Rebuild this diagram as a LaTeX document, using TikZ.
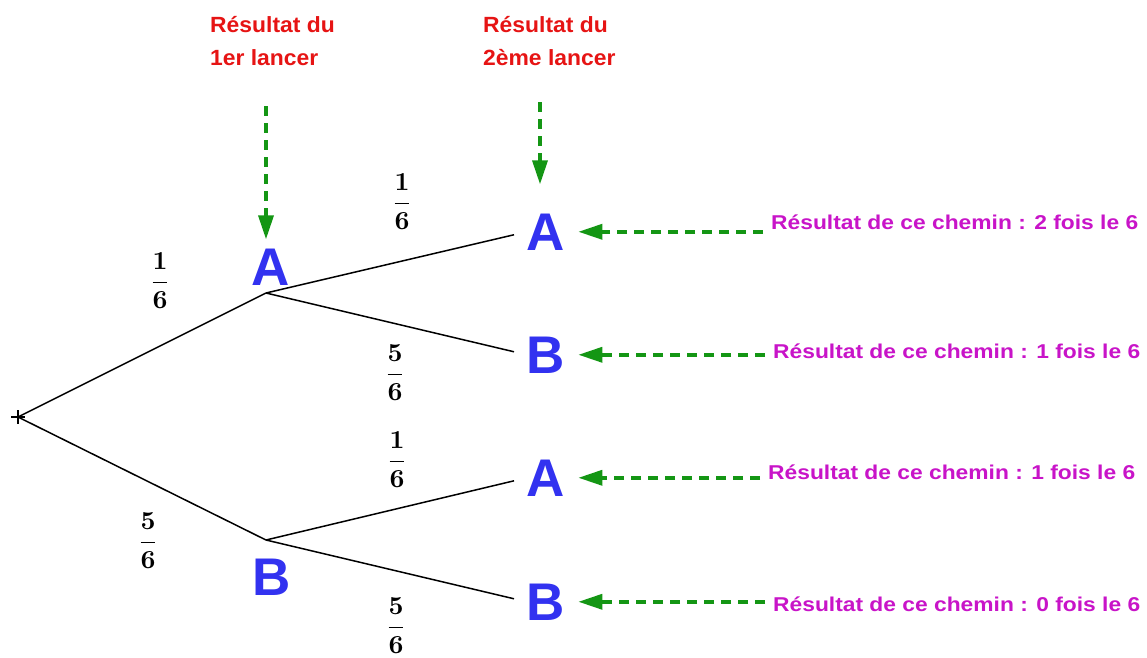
\documentclass[tikz,border=0pt]{standalone}
\usepackage{amsmath}
\usepackage[no-math]{fontspec}
\setmainfont{Liberation Sans}
\newfontfamily\headfont[FakeStretch=1.04]{Liberation Sans}
\newfontfamily\pathfont[FakeStretch=1.14]{Liberation Sans}
\usetikzlibrary{arrows.meta}
\definecolor{headred}{RGB}{230,20,20}
\definecolor{pathmag}{RGB}{200,20,200}
\definecolor{arrgreen}{RGB}{20,150,20}
\definecolor{letblue}{RGB}{50,50,240}
\newcommand{\bigprob}[2]{\scalebox{2.6}{\boldmath$\dfrac{#1}{#2}$}}
\tikzset{
  letter/.style={inner sep=0pt, anchor=base, text=letblue, font=\bfseries\fontsize{53}{53}\selectfont},
  heading/.style={inner sep=0pt, anchor=base west, text=headred, font=\headfont\bfseries\fontsize{22}{22}\selectfont},
  pathtxt/.style={inner sep=0pt, anchor=base west, text=pathmag, font=\pathfont\bfseries\fontsize{20}{20}\selectfont},
  prob/.style={inner sep=0pt},
  branch/.style={line width=1.5pt, black},
  garrow/.style={line width=3.5pt, arrgreen, dash pattern=on 10pt off 7pt, -{Triangle[length=24pt,width=15pt]}}
}
\begin{document}
\begin{tikzpicture}[x=1pt,y=-1pt]
\useasboundingbox (0,0) rectangle (1147,657);
% tree points
\coordinate (root) at (18,417);
\coordinate (a1) at (266,293);
\coordinate (b1) at (266,540);
\draw[line width=1.5pt] (root) ++(-7,0) -- ++(14,0);
\draw[line width=1.5pt] (root) ++(0,-7) -- ++(0,14);
% letters
\node[letter] (A1) at (271,285) {A};
\node[letter] (B1) at (272,595) {B};
\node[letter] (A2) at (546,250) {A};
\node[letter] (B2) at (546,373) {B};
\node[letter] (A3) at (546,496) {A};
\node[letter] (B3) at (546,620) {B};
% branches
\draw[branch] (root) -- (a1);
\draw[branch] (root) -- (b1);
\draw[branch, shorten >=13pt] (a1) -- (A2.west);
\draw[branch, shorten >=13pt] (a1) -- (B2.west);
\draw[branch, shorten >=13pt] (b1) -- (A3.west);
\draw[branch, shorten >=13pt] (b1) -- (B3.west);
% probabilities
\node[prob] (p1) at (160,281) {\bigprob{1}{6}};
\node[prob] (p2) at (148,541) {\bigprob{5}{6}};
\node[prob] (p3) at (402,202) {\bigprob{1}{6}};
\node[prob] (p4) at (395,373) {\bigprob{5}{6}};
\node[prob] (p5) at (397,460) {\bigprob{1}{6}};
\node[prob] (p6) at (396,626) {\bigprob{5}{6}};
% headings
\node[heading] (h1a) at (210,32) {Résultat du};
\node[heading] (h1b) at (210,65) {1er lancer};
\node[heading] (h2a) at (483,32) {Résultat du};
\node[heading] (h2b) at (483,65) {2ème lancer};
\coordinate (v1) at (266,106);
\coordinate (v2) at (540,102);
\draw[garrow, shorten >=9pt] (v1) -- (v1 |- A1.north);
\draw[garrow, shorten >=29pt] (v2) -- (v2 |- A2.north);
% path results
\node[pathtxt] (t1) at (771,229) {Résultat de ce chemin : 2 fois le 6};
\node[pathtxt] (t2) at (773,358) {Résultat de ce chemin : 1 fois le 6};
\node[pathtxt] (t3) at (768,479) {Résultat de ce chemin : 1 fois le 6};
\node[pathtxt] (t4) at (773,611) {Résultat de ce chemin : 0 fois le 6};
\draw[garrow, shorten <=8pt, shorten >=13pt] (t1.west |- A2.center) -- (A2.east);
\draw[garrow, shorten <=8pt, shorten >=13pt] (t2.west |- B2.center) -- (B2.east);
\draw[garrow, shorten <=8pt, shorten >=13pt] (t3.west |- A3.center) -- (A3.east);
\draw[garrow, shorten <=8pt, shorten >=13pt] (t4.west |- B3.center) -- (B3.east);
\end{tikzpicture}
\end{document}
